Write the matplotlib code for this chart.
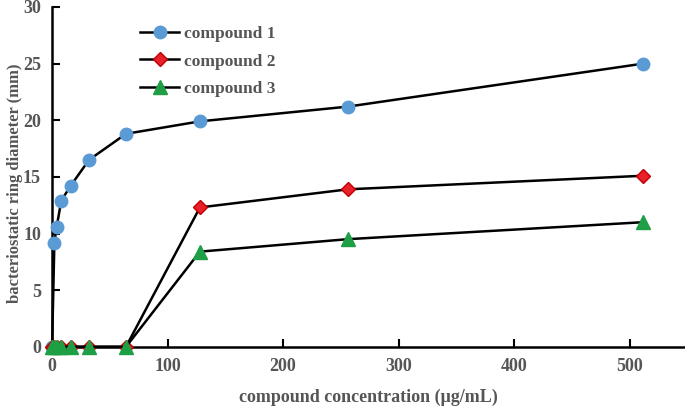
import matplotlib
matplotlib.use("Agg")
import matplotlib.pyplot as plt

conc = [0, 2, 4, 8, 16, 32, 64, 128, 256, 512]
compound1 = [0, 9.2, 10.6, 12.9, 14.2, 16.5, 18.8, 19.9, 21.2, 25.0]
compound2 = [0, 0, 0, 0, 0, 0, 0, 12.3, 13.9, 15.1]
compound3 = [0, 0, 0, 0, 0, 0, 0, 8.4, 9.5, 11.0]
labels = ["compound 1", "compound 2", "compound 3"]

plt.rcParams['font.family'] = ['Liberation Serif', 'DejaVu Serif']
plt.rcParams['font.weight'] = 'bold'
txt = '#555555'

fig = plt.figure(figsize=(6.85, 4.08), dpi=100)
ax = fig.add_axes([0.076, 0.15, 0.924, 0.833])

ax.plot(conc, compound1, '-', color='black', lw=1.8, marker='o', ms=9,
        mfc='#5b9bd5', mec='#5b9bd5', label=labels[0], zorder=3)
ax.plot(conc, compound2, '-', color='black', lw=1.8, marker='D', ms=7,
        mfc='#e8202a', mec='#c00000', label=labels[1], zorder=4)
ax.plot(conc, compound3, '-', color='black', lw=1.8, marker='^', ms=9.5,
        mfc='#1e9e45', mec='#1e9e45', label=labels[2], zorder=5)

ax.set_xlim(0, 548)
ax.set_ylim(0, 30)
ax.set_xticks([0, 100, 200, 300, 400, 500])
ax.set_yticks([0, 5, 10, 15, 20, 25, 30])
for s in ['top', 'right']:
    ax.spines[s].set_visible(False)
for s in ['left', 'bottom']:
    ax.spines[s].set_linewidth(1.8)
ax.tick_params(direction='in', length=6, width=1.5, labelsize=13, labelcolor=txt, pad=8)
for lab in ax.get_xticklabels() + ax.get_yticklabels():
    lab.set_fontweight('bold')
for l in ax.lines:
    l.set_clip_on(False)

ax.set_xlabel('compound concentration (μg/mL)', fontsize=13, fontweight='bold', color=txt, labelpad=10)
ax.set_ylabel('bacteriostatic ring diameter (mm)', fontsize=12, fontweight='bold', color=txt)
ax.yaxis.set_label_coords(-0.046, 0.48)

leg = ax.legend(loc='upper left', bbox_to_anchor=(0.115, 0.99), frameon=False,
                fontsize=12.5, handlelength=2.2, labelspacing=0.65, handletextpad=0.3)
for t in leg.get_texts():
    t.set_color(txt)
    t.set_fontweight('bold')

fig.savefig('out.png', dpi=100)
